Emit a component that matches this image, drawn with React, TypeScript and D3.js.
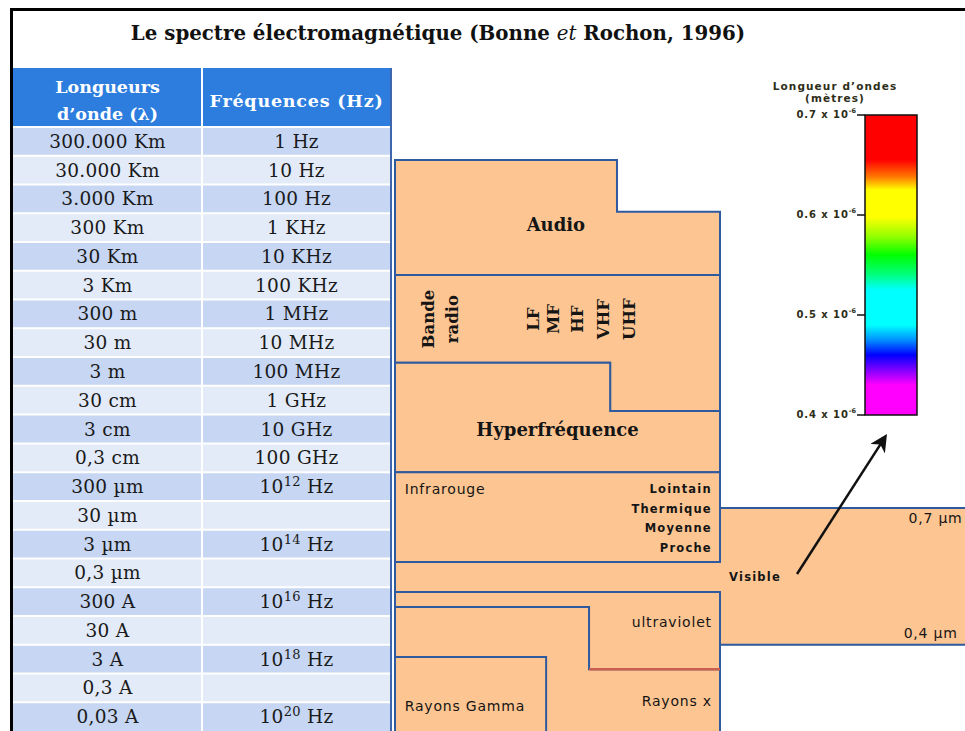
import React, { useRef, useEffect } from 'react';
import * as d3 from 'd3';

// Title and table headings
const titleParts = ['Le spectre électromagnétique (Bonne ', 'et', ' Rochon, 1996)'];
const headerWave = ['Longueurs', 'd\u2019onde (λ)'];
const headerFreq = 'Fréquences (Hz)';

// One row per decade of wavelength
const wavelengths = [
  '300.000 Km', '30.000 Km', '3.000 Km', '300 Km', '30 Km', '3 Km', '300 m', '30 m', '3 m',
  '30 cm', '3 cm', '0,3 cm', '300 µm', '30 µm', '3 µm', '0,3 µm', '300 A', '30 A', '3 A',
  '0,3 A', '0,03 A',
];
const frequencies = [
  '1 Hz', '10 Hz', '100 Hz', '1 KHz', '10 KHz', '100 KHz', '1 MHz', '10 MHz', '100 MHz',
  '1 GHz', '10 GHz', '100 GHz', '10^12 Hz', '', '10^14 Hz', '', '10^16 Hz', '', '10^18 Hz',
  '', '10^20 Hz',
];

// Spectrum bands: outline points as [column %, decade row]
const bandNames = ['Audio', 'Radio', 'Hyperfréquence', 'Infrarouge', 'Visible', 'Ultraviolet', 'Rayons X', 'Rayons Gamma'];
const bandOutlines: [number, number][][] = [
  [[0, 1.15], [68.3, 1.15], [68.3, 2.95], [100, 2.95], [100, 5.15], [0, 5.15]],
  [[0, 5.15], [100, 5.15], [100, 9.87], [66.2, 9.87], [66.2, 8.2], [0, 8.2]],
  [[0, 8.2], [66.2, 8.2], [66.2, 9.87], [100, 9.87], [100, 12], [0, 12]],
  [[0, 12], [100, 12], [100, 15.12], [0, 15.12]],
  [[0, 15.12], [100, 15.12], [100, 13.25], [180, 13.25], [180, 18], [100, 18], [100, 16.17], [0, 16.17]],
  [[0, 16.17], [100, 16.17], [100, 18.85], [59.7, 18.85], [59.7, 16.69], [0, 16.69]],
  [[0, 16.69], [59.7, 16.69], [59.7, 18.85], [100, 18.85], [100, 21.4], [0, 21.4]],
  [[0, 18.43], [46.5, 18.43], [46.5, 21.4], [0, 21.4]],
];

// Labels inside the bands: [text, column %, decade row, anchor, kind]
const bandLabels: [string, number, number, string, string][] = [
  ['Audio', 49.5, 3.4, 'middle', 'serifBold'],
  ['Hyperfréquence', 50, 10.5, 'middle', 'serifBold'],
  ['Infrarouge', 3, 12.6, 'start', 'sans'],
  ['Lointain', 97.5, 12.6, 'end', 'sansSmall'],
  ['Thermique', 97.5, 13.28, 'end', 'sansSmall'],
  ['Moyenne', 97.5, 13.95, 'end', 'sansSmall'],
  ['Proche', 97.5, 14.64, 'end', 'sansSmall'],
  ['Visible', 102.8, 15.65, 'start', 'sansSmall'],
  ['ultraviolet', 97.5, 17.2, 'end', 'sans'],
  ['Rayons x', 97.5, 19.95, 'end', 'sans'],
  ['Rayons Gamma', 3, 20.13, 'start', 'sans'],
  ['0,7 µm', 158, 13.6, 'start', 'sans'],
  ['0,4  µm', 156.5, 17.6, 'start', 'sans'],
];
// Rotated radio labels: [text, column %]
const radioLabels: [string, number][] = [
  ['Bande', 10.2], ['radio', 17.6], ['LF', 42.5], ['MF', 48.8], ['HF', 56], ['VHF', 64.3], ['UHF', 72.3],
];

// Visible colour bar (wavelength in 10^-6 m)
const barTicks = [0.7, 0.6, 0.5, 0.4];
const rainbowStops = [0.7, 0.655, 0.638, 0.625, 0.598, 0.578, 0.56, 0.54, 0.525, 0.49, 0.475, 0.46, 0.445, 0.43, 0.4];
const rainbowColors = [
  '#ff0000', '#ff0000', '#ff7a00', '#ffff00', '#ffff00', '#90ff00', '#00ff00', '#00ff80',
  '#00ffff', '#00ffff', '#0090ff', '#0000ff', '#8000ff', '#ff00ff', '#ff00ff',
];

const App = () => {
  const svgRef = useRef(null);

  useEffect(() => {
    const W = 965;
    const H = 731;
    const svg = d3.select(svgRef.current).attr('width', W).attr('height', H);
    svg.selectAll('*').remove();

    const serif = '"DejaVu Serif", serif';
    const sans = '"DejaVu Sans", sans-serif';

    svg.append('rect').attr('width', W).attr('height', H).attr('fill', 'white');

    // Scales
    const y = d3.scaleLinear().domain([0, wavelengths.length]).range([127, 731]);
    const col = d3.scaleBand().domain(['wave', 'freq']).range([13, 391]);
    const x = d3.scaleLinear().domain([0, 100]).range([395, 720]);
    const barY = d3.scaleLinear().domain([0.4, 0.7]).range([415, 115]);

    // Title
    const title = svg
      .append('text')
      .attr('x', 438)
      .attr('y', 40)
      .attr('text-anchor', 'middle')
      .attr('font-family', serif)
      .attr('font-weight', 'bold')
      .attr('font-size', 19.8)
      .attr('fill', '#111');
    title.append('tspan').text(titleParts[0]);
    title.append('tspan').attr('font-style', 'italic').attr('font-weight', 'normal').text(titleParts[1]);
    title.append('tspan').text(titleParts[2]);

    // Table header
    svg
      .append('rect')
      .attr('x', 13)
      .attr('y', 68)
      .attr('width', 378)
      .attr('height', y(0) - 68)
      .attr('fill', '#2d7ddf');

    const hdr = svg
      .append('g')
      .attr('font-family', serif)
      .attr('font-weight', 'bold')
      .attr('font-size', 17.5)
      .attr('fill', 'white')
      .attr('text-anchor', 'middle');
    headerWave.forEach((t, i) => {
      hdr
        .append('text')
        .attr('x', col('wave') + col.bandwidth() / 2)
        .attr('y', 93 + i * 27)
        .text(t);
    });
    hdr
      .append('text')
      .attr('x', col('freq') + col.bandwidth() / 2)
      .attr('y', 107)
      .attr('letter-spacing', 0.8)
      .text(headerFreq);

    // Table rows
    const rows = svg.append('g').selectAll('g').data(wavelengths).join('g');
    rows
      .append('rect')
      .attr('x', 13)
      .attr('y', (d, i) => y(i))
      .attr('width', 378)
      .attr('height', y(1) - y(0))
      .attr('fill', (d, i) => (i % 2 === 0 ? '#c6d6f3' : '#e3ebf8'));

    rows
      .append('line')
      .attr('x1', 13)
      .attr('x2', 391)
      .attr('y1', (d, i) => y(i))
      .attr('y2', (d, i) => y(i))
      .attr('stroke', 'white')
      .attr('stroke-width', 2);

    rows
      .append('text')
      .attr('x', col('wave') + col.bandwidth() / 2)
      .attr('y', (d, i) => y(i + 0.5) + 6.5)
      .attr('text-anchor', 'middle')
      .attr('font-family', serif)
      .attr('font-size', 18.5)
      .attr('letter-spacing', 0.3)
      .attr('fill', '#1a1a1a')
      .text((d) => d);

    const freqText = rows
      .append('text')
      .attr('x', col('freq') + col.bandwidth() / 2)
      .attr('y', (d, i) => y(i + 0.5) + 6.5)
      .attr('text-anchor', 'middle')
      .attr('font-family', serif)
      .attr('font-size', 18.5)
      .attr('letter-spacing', 0.3)
      .attr('fill', '#1a1a1a');
    freqText.each(function (d, i) {
      const f = frequencies[i];
      const t = d3.select(this);
      const m = f.match(/^10\^(\d+) (.*)$/);
      if (m) {
        t.append('tspan').text('10');
        t.append('tspan').attr('dy', -7).attr('font-size', 13).text(m[1]);
        t.append('tspan').attr('dy', 7).text(' ' + m[2]);
      } else {
        t.text(f);
      }
    });

    // Column separator and table right edge
    svg
      .append('line')
      .attr('x1', col('freq'))
      .attr('x2', col('freq'))
      .attr('y1', 68)
      .attr('y2', H)
      .attr('stroke', 'white')
      .attr('stroke-width', 2);
    svg
      .append('line')
      .attr('x1', 391)
      .attr('x2', 391)
      .attr('y1', 68)
      .attr('y2', H)
      .attr('stroke', '#3f66ad')
      .attr('stroke-width', 2);

    // Spectrum bands
    const outline = d3
      .line<[number, number]>()
      .x((d) => x(d[0]))
      .y((d) => y(d[1]));

    svg
      .append('g')
      .selectAll('path')
      .data(bandOutlines)
      .join('path')
      .attr('d', (d) => outline(d) + 'Z')
      .attr('fill', '#fdc592')
      .attr('stroke', '#2f5a9e')
      .attr('stroke-width', 2)
      .attr('class', (d, i) => 'band-' + i)
      .attr('data-name', (d, i) => bandNames[i]);

    // red edge between ultraviolet and rayons x
    svg
      .append('line')
      .attr('x1', x(59.7))
      .attr('x2', x(100))
      .attr('y1', y(18.85))
      .attr('y2', y(18.85))
      .attr('stroke', '#c9604f')
      .attr('stroke-width', 2.5);

    // Band labels
    const fontFor = (k) => {
      if (k === 'serifBold') return { f: serif, s: 18, w: 'bold', ls: 0 };
      if (k === 'sansSmall') return { f: sans, s: 11.5, w: 'bold', ls: 1.2 };
      return { f: sans, s: 14, w: 'normal', ls: 0.8 };
    };
    svg
      .append('g')
      .selectAll('text')
      .data(bandLabels)
      .join('text')
      .attr('x', (d) => x(d[1]))
      .attr('y', (d) => y(d[2]))
      .attr('dominant-baseline', 'central')
      .attr('text-anchor', (d) => d[3])
      .attr('font-family', (d) => fontFor(d[4]).f)
      .attr('font-size', (d) => fontFor(d[4]).s)
      .attr('font-weight', (d) => fontFor(d[4]).w)
      .attr('letter-spacing', (d) => fontFor(d[4]).ls)
      .attr('fill', '#151515')
      .text((d) => d[0]);

    svg
      .append('g')
      .selectAll('text')
      .data(radioLabels)
      .join('text')
      .attr('transform', (d) => `translate(${x(d[1])},${y(6.68)}) rotate(-90)`)
      .attr('text-anchor', 'middle')
      .attr('dominant-baseline', 'central')
      .attr('font-family', serif)
      .attr('font-weight', 'bold')
      .attr('font-size', 16.5)
      .attr('fill', '#151515')
      .text((d) => d[0]);

    // Colour bar for the visible range
    const grad = svg
      .append('defs')
      .append('linearGradient')
      .attr('id', 'rainbow')
      .attr('gradientUnits', 'userSpaceOnUse')
      .attr('x1', 0)
      .attr('x2', 0)
      .attr('y1', barY(0.7))
      .attr('y2', barY(0.4));
    grad
      .selectAll('stop')
      .data(rainbowStops)
      .join('stop')
      .attr('offset', (d) => (barY(d) - barY(0.7)) / (barY(0.4) - barY(0.7)))
      .attr('stop-color', (d, i) => rainbowColors[i]);

    svg
      .append('rect')
      .attr('x', 865)
      .attr('y', barY(0.7))
      .attr('width', 52)
      .attr('height', barY(0.4) - barY(0.7))
      .attr('fill', 'url(#rainbow)')
      .attr('stroke', '#111')
      .attr('stroke-width', 1.5);

    const barLab = svg
      .append('g')
      .attr('font-family', sans)
      .attr('font-weight', 'bold')
      .attr('fill', '#2e2e18');
    barLab
      .append('text')
      .attr('x', 835)
      .attr('y', 90)
      .attr('text-anchor', 'middle')
      .attr('font-size', 10.5)
      .attr('letter-spacing', 1.1)
      .text('Longueur d\u2019ondes');
    barLab
      .append('text')
      .attr('x', 835)
      .attr('y', 102)
      .attr('text-anchor', 'middle')
      .attr('font-size', 10.5)
      .attr('letter-spacing', 1.1)
      .text('(mètres)');

    const tick = barLab.selectAll('g.tick').data(barTicks).join('g').attr('class', 'tick');
    tick
      .append('line')
      .attr('x1', 857)
      .attr('x2', 865)
      .attr('y1', (d) => barY(d))
      .attr('y2', (d) => barY(d))
      .attr('stroke', '#111')
      .attr('stroke-width', 1.5);
    const tickText = tick
      .append('text')
      .attr('x', 856)
      .attr('y', (d) => barY(d) + 3)
      .attr('text-anchor', 'end')
      .attr('font-size', 10)
      .attr('letter-spacing', 0.9);
    tickText.append('tspan').text((d) => d3.format('.1f')(d) + ' x 10');
    tickText.append('tspan').attr('dy', -5).attr('font-size', 6.5).attr('letter-spacing', 0).text('-6');

    // Arrow from visible band to the colour bar
    svg
      .append('defs')
      .append('marker')
      .attr('id', 'arrow')
      .attr('viewBox', '0 0 10 10')
      .attr('refX', 8)
      .attr('refY', 5)
      .attr('markerWidth', 7)
      .attr('markerHeight', 7)
      .attr('orient', 'auto')
      .append('path')
      .attr('d', 'M0,0 L10,5 L0,10 L3,5 Z')
      .attr('fill', '#111');
    svg
      .append('line')
      .attr('x1', x(123.7))
      .attr('y1', y(15.54))
      .attr('x2', x(150.8))
      .attr('y2', y(10.78))
      .attr('stroke', '#111')
      .attr('stroke-width', 2.5)
      .attr('marker-end', 'url(#arrow)');

    // Outer frame
    svg
      .append('rect')
      .attr('x', 11.5)
      .attr('y', 9.5)
      .attr('width', W)
      .attr('height', H)
      .attr('fill', 'none')
      .attr('stroke', '#000')
      .attr('stroke-width', 3);
  }, []);

  return <svg ref={svgRef} style={{ position: 'absolute', left: 0, top: 0 }}></svg>;
};

export default App;
